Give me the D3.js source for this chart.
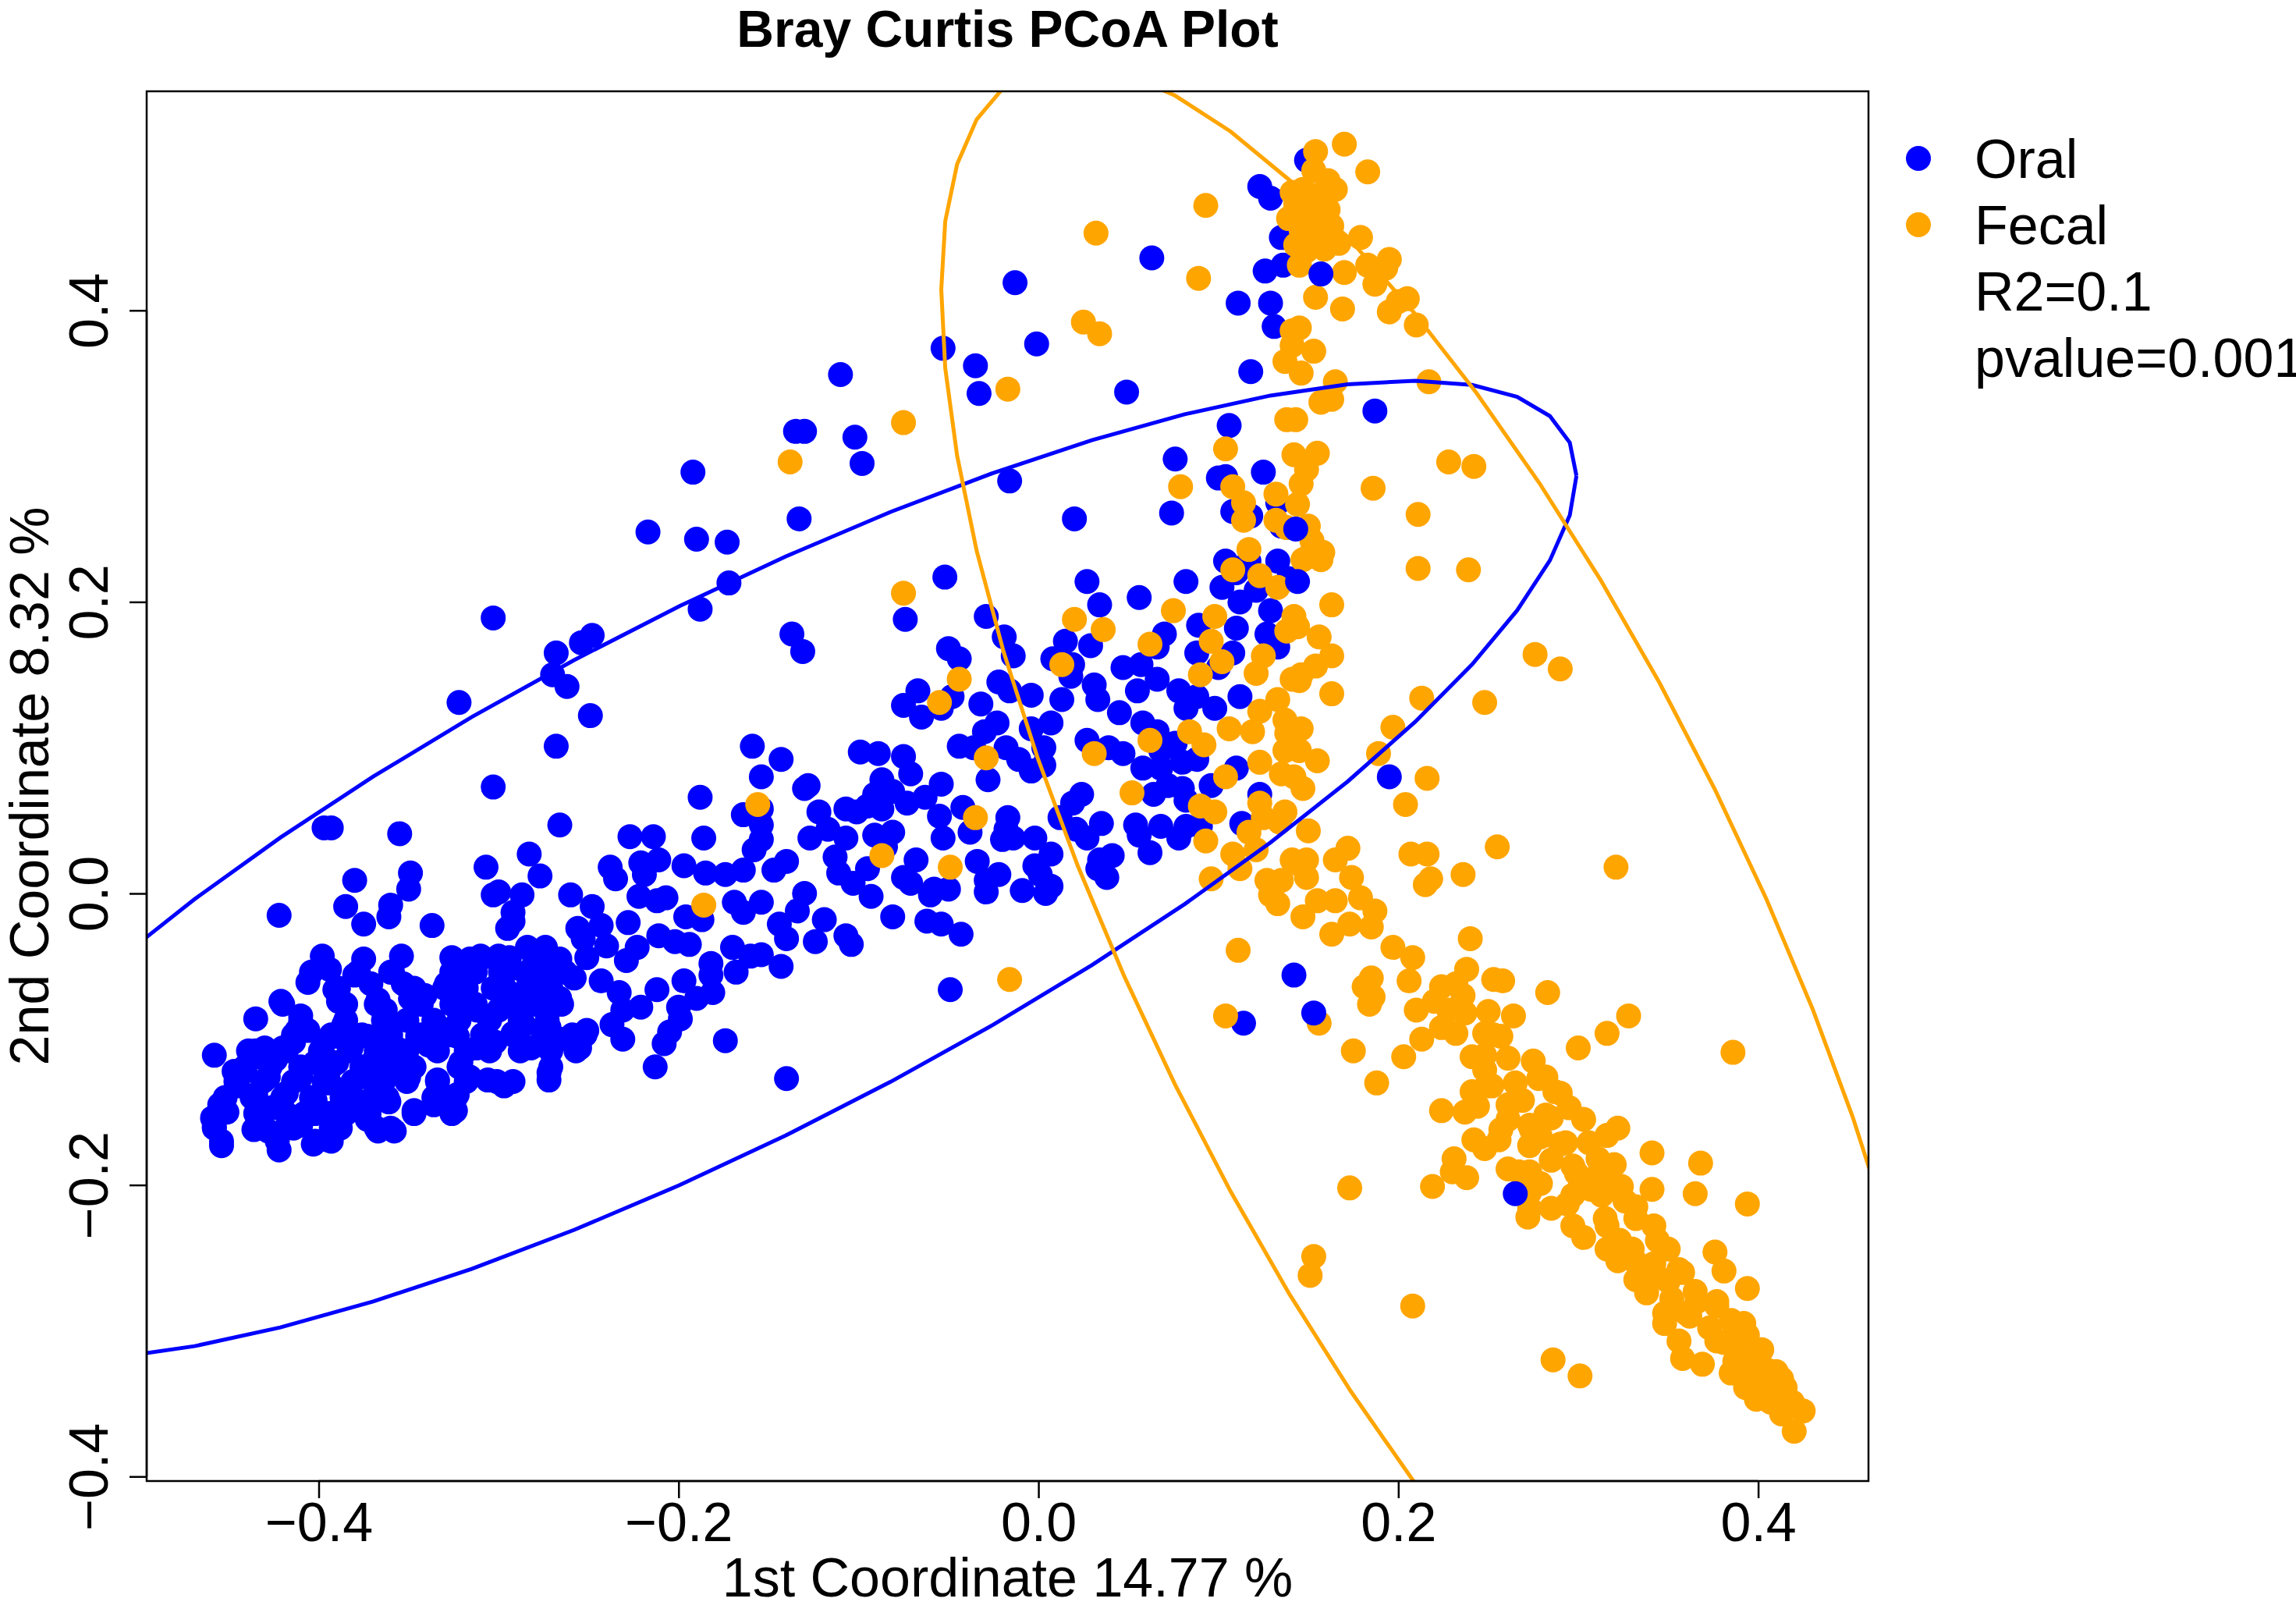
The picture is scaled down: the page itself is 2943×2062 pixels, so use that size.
<!DOCTYPE html>
<html>
<head>
<meta charset="utf-8">
<script src="https://cdn.jsdelivr.net/npm/d3@7"></script>
<style>
  body { margin: 0; background: #fff; }
</style>
</head>
<body>
<div id="chart"></div>
<script>
// (PCoA coordinates)
var oralPoints = [
  [-0.192,0.289],[-0.217,0.248],[-0.190,0.243],
  [-0.303,0.189],[-0.322,0.131],[-0.268,0.165],[-0.254,0.172],[-0.248,0.177],[-0.270,0.150],[-0.262,0.142],[-0.249,0.122],[-0.268,0.101],[-0.188,0.195],[-0.172,0.213],[-0.303,0.073],[-0.188,0.066],[-0.397,0.045],[-0.393,0.045],[-0.355,0.041],[-0.266,0.047],[-0.227,0.039],[-0.214,0.039],[-0.186,0.038],[-0.283,0.027],[-0.307,0.018],[-0.277,0.012],[-0.238,0.018],[-0.235,0.010],[-0.221,0.021],[-0.211,0.023],[-0.197,0.019],[-0.185,0.014],[-0.219,0.013],[-0.380,0.009],[-0.349,0.014],[-0.350,0.003],[-0.422,-0.015],[-0.385,-0.009],[-0.360,-0.008],[-0.361,-0.016],[-0.375,-0.021],[-0.337,-0.022],[-0.303,-0.001],[-0.300,0.001],[-0.287,-0.001],[-0.292,-0.013],[-0.292,-0.019],[-0.295,-0.024],[-0.260,-0.001],[-0.248,-0.009],[-0.256,-0.024],[-0.243,-0.022],[-0.228,-0.020],[-0.222,-0.002],[-0.212,-0.005],[-0.207,-0.003],[-0.196,-0.016],[-0.187,-0.018],[-0.211,-0.029],[-0.202,-0.033],[-0.194,-0.035],[-0.223,-0.037],[-0.229,-0.046],[-0.253,-0.031],[-0.251,-0.044],[-0.240,-0.036],[-0.243,-0.060],[-0.233,-0.068],[-0.231,-0.080],[-0.221,-0.078],[-0.212,-0.066],[-0.197,-0.060],[-0.190,-0.072],[-0.182,-0.048],[-0.181,-0.068],[-0.200,-0.078],[-0.182,-0.056],
  [-0.398,-0.043],[-0.406,-0.061],[-0.394,-0.052],[-0.391,-0.066],[-0.389,-0.074],[-0.375,-0.045],[-0.380,-0.056],[-0.371,-0.062],[-0.367,-0.073],[-0.363,-0.080],[-0.354,-0.043],[-0.359,-0.054],[-0.353,-0.062],[-0.349,-0.072],[-0.341,-0.070],[-0.421,-0.074],[-0.435,-0.086],[-0.410,-0.084],[-0.329,-0.062],[-0.323,-0.052],[-0.316,-0.045],[-0.310,-0.043],[-0.319,-0.072],[-0.312,-0.080],[-0.300,-0.043],[-0.294,-0.052],[-0.284,-0.037],[-0.274,-0.037],[-0.266,-0.045],[-0.284,-0.056],[-0.276,-0.062],[-0.266,-0.072],[-0.258,-0.058],[-0.296,-0.066],[-0.300,-0.080],[-0.288,-0.076],[-0.272,-0.080],
  [-0.458,-0.111],[-0.454,-0.173],[-0.422,-0.176],[-0.403,-0.172],[-0.395,-0.169],[-0.459,-0.154],[-0.458,-0.160],[-0.455,-0.145],[-0.451,-0.150],[-0.445,-0.132],[-0.441,-0.122],[-0.435,-0.112],[-0.436,-0.162],[-0.428,-0.163],[-0.418,-0.161],[-0.410,-0.159],[-0.412,-0.094],[-0.406,-0.094],[-0.414,-0.102],[-0.420,-0.106],[-0.424,-0.114],[-0.428,-0.126],[-0.435,-0.138],[-0.426,-0.147],[-0.418,-0.137],[-0.410,-0.126],[-0.402,-0.116],[-0.398,-0.106],[-0.390,-0.098],[-0.386,-0.090],[-0.382,-0.106],[-0.390,-0.116],[-0.394,-0.130],[-0.402,-0.142],[-0.408,-0.151],[-0.394,-0.151],[-0.388,-0.161],[-0.382,-0.138],[-0.373,-0.126],[-0.369,-0.114],[-0.373,-0.098],[-0.361,-0.092],[-0.357,-0.106],[-0.353,-0.124],[-0.350,-0.126],[-0.361,-0.143],[-0.373,-0.155],[-0.367,-0.163],[-0.358,-0.163],[-0.382,-0.147],[-0.347,-0.149],[-0.345,-0.098],[-0.339,-0.104],[-0.333,-0.092],[-0.323,-0.098],[-0.312,-0.106],[-0.321,-0.116],[-0.316,-0.126],[-0.334,-0.128],[-0.336,-0.145],[-0.324,-0.149],[-0.323,-0.138],[-0.306,-0.128],[-0.297,-0.132],[-0.292,-0.129],[-0.302,-0.102],[-0.292,-0.096],[-0.282,-0.106],[-0.286,-0.090],[-0.272,-0.092],[-0.272,-0.123],[-0.272,-0.128],[-0.266,-0.100],[-0.255,-0.098],[-0.255,-0.106],[-0.251,-0.094],[-0.237,-0.090],[-0.231,-0.100],[-0.213,-0.119],[-0.208,-0.103],[-0.205,-0.095],[-0.199,-0.086],[-0.174,-0.101],[-0.447,-0.122],[-0.439,-0.108],[-0.430,-0.106],
  [-0.326,-0.044],[-0.309,-0.044],[-0.294,-0.044],[-0.280,-0.044],[-0.271,-0.044],
  [-0.404,-0.054],[-0.378,-0.054],[-0.360,-0.054],[-0.326,-0.054],[-0.313,-0.054],[-0.299,-0.054],[-0.284,-0.054],[-0.271,-0.054],[-0.263,-0.054],
  [-0.389,-0.065],[-0.347,-0.065],[-0.330,-0.065],[-0.318,-0.065],[-0.303,-0.065],[-0.284,-0.065],[-0.271,-0.065],
  [-0.420,-0.076],[-0.385,-0.076],[-0.368,-0.076],[-0.343,-0.076],[-0.326,-0.076],[-0.313,-0.076],[-0.297,-0.076],[-0.280,-0.076],[-0.265,-0.076],
  [-0.410,-0.087],[-0.385,-0.087],[-0.364,-0.087],[-0.351,-0.087],[-0.336,-0.087],[-0.322,-0.087],[-0.305,-0.087],[-0.288,-0.087],[-0.273,-0.087],
  [-0.414,-0.097],[-0.393,-0.097],[-0.376,-0.097],[-0.360,-0.097],[-0.343,-0.097],[-0.326,-0.097],[-0.309,-0.097],[-0.292,-0.097],[-0.275,-0.097],[-0.259,-0.097],[-0.252,-0.097],
  [-0.435,-0.108],[-0.418,-0.108],[-0.399,-0.108],[-0.383,-0.108],[-0.368,-0.108],[-0.351,-0.108],[-0.334,-0.108],[-0.318,-0.108],[-0.305,-0.108],[-0.288,-0.108],[-0.271,-0.108],[-0.257,-0.108],
  [-0.441,-0.119],[-0.427,-0.119],[-0.410,-0.119],[-0.393,-0.119],[-0.376,-0.119],[-0.360,-0.119],[-0.347,-0.119],[-0.322,-0.119],[-0.271,-0.119],
  [-0.446,-0.129],[-0.431,-0.129],[-0.414,-0.129],[-0.397,-0.129],[-0.381,-0.129],[-0.364,-0.129],[-0.351,-0.129],[-0.334,-0.129],[-0.318,-0.129],[-0.301,-0.129],
  [-0.452,-0.140],[-0.437,-0.140],[-0.420,-0.140],[-0.404,-0.140],[-0.387,-0.140],[-0.370,-0.140],[-0.362,-0.140],[-0.336,-0.140],[-0.324,-0.140],
  [-0.456,-0.151],[-0.435,-0.151],[-0.418,-0.151],[-0.402,-0.151],[-0.385,-0.151],[-0.372,-0.151],[-0.347,-0.151],[-0.326,-0.151],
  [-0.458,-0.161],[-0.433,-0.161],[-0.414,-0.161],[-0.393,-0.161],[-0.368,-0.161],[-0.360,-0.161],
  [-0.454,-0.170],[-0.423,-0.170],[-0.402,-0.170],[-0.393,-0.170],
  [-0.140,-0.127],[0.114,-0.089],
  [-0.052,0.217],[-0.074,0.188],[-0.137,0.178],[-0.131,0.166],[-0.029,0.190],[-0.019,0.176],[-0.014,0.163],[-0.050,0.168],[-0.044,0.161],[0.027,0.214],[0.034,0.198],[0.056,0.203],[0.082,0.214],[0.070,0.178],[0.066,0.169],[0.015,0.173],[0.029,0.170],[0.008,0.161],[0.019,0.157],[0.018,0.149],[0.031,0.143],[0.033,0.133],[0.013,0.133],[-0.022,0.145],[-0.016,0.139],[-0.004,0.136],[-0.032,0.130],[-0.048,0.135],[-0.067,0.139],[-0.075,0.129],[-0.065,0.121],[-0.054,0.127],[0.047,0.155],[0.057,0.157],[0.066,0.147],[0.055,0.139],[0.045,0.124],[0.058,0.117],[0.066,0.111],[0.078,0.139],[0.082,0.127],[0.088,0.135],[0.098,0.127],[0.112,0.135],[0.089,0.184],[0.088,0.165],[0.100,0.155],[0.108,0.165],[0.102,0.210],[0.110,0.220],[0.104,0.228],[0.117,0.228],[0.133,0.228],[0.112,0.200],[0.129,0.194],[0.110,0.182],[0.127,0.178],[0.133,0.169],[0.121,0.208],[0.139,0.216],
  [-0.023,0.117],[-0.030,0.111],[-0.044,0.101],[-0.036,0.100],[-0.018,0.100],[-0.004,0.113],[0.007,0.117],[-0.011,0.092],[0.003,0.100],[-0.004,0.084],[0.003,0.088],[-0.028,0.078],[0.027,0.105],[0.039,0.100],[0.047,0.096],[0.058,0.086],[0.068,0.098],[0.076,0.103],[0.080,0.090],[0.088,0.092],[0.068,0.086],[0.072,0.074],[0.064,0.068],[0.080,0.072],[0.082,0.064],[0.096,0.074],[0.110,0.086],[0.123,0.068],[0.113,0.048],[0.024,0.068],[0.019,0.062],[0.012,0.052],[0.021,0.044],[0.027,0.038],[0.035,0.048],[0.054,0.047],[0.068,0.046],[0.056,0.040],[0.062,0.028],[0.034,0.023],[0.041,0.026],[0.033,0.017],[0.038,0.011],[0.078,0.038],[0.082,0.046],[0.090,0.046],
  [-0.017,0.052],[-0.018,0.044],[-0.014,0.038],[-0.020,0.037],[-0.002,0.038],[0.007,0.027],[-0.002,0.019],[0.001,0.013],[0.007,0.005],[0.004,0.000],[-0.009,0.002],[-0.022,0.013],[-0.034,0.022],[-0.029,0.009],[-0.029,0.001],[-0.042,0.059],[-0.038,0.042],[-0.053,0.038],[-0.055,0.053],[-0.054,0.075],[-0.075,0.094],[-0.089,0.096],[-0.099,0.097],[-0.071,0.082],[-0.087,0.078],[-0.081,0.070],[-0.091,0.068],[-0.073,0.062],[-0.063,0.066],[-0.087,0.058],[-0.095,0.060],[-0.081,0.042],[-0.091,0.040],[-0.085,0.032],[-0.107,0.058],[-0.101,0.056],[-0.122,0.056],[-0.130,0.072],[-0.128,0.074],[-0.159,0.101],[-0.143,0.092],[-0.154,0.080],[-0.164,0.054],[-0.154,0.058],[-0.154,0.047],[-0.154,0.037],[-0.158,0.030],[-0.127,0.038],[-0.117,0.044],[-0.113,0.025],[-0.107,0.038],[-0.111,0.014],[-0.103,0.007],[-0.093,-0.002],[-0.095,0.017],[-0.140,0.022],[-0.147,0.016],[-0.164,0.016],[-0.174,0.013],[-0.068,0.023],[-0.075,0.011],[-0.071,0.007],[-0.058,0.003],[-0.050,0.003],[-0.060,-0.001],[-0.081,-0.016],[-0.062,-0.019],[-0.054,-0.021],[-0.043,-0.028],[-0.130,0.000],[-0.134,-0.012],[-0.154,-0.006],[-0.169,-0.006],[-0.164,-0.013],[-0.144,-0.021],[-0.119,-0.018],[-0.124,-0.033],[-0.107,-0.029],[-0.104,-0.035],[-0.140,-0.031],[-0.143,-0.050],[-0.170,-0.037],[-0.160,-0.043],[-0.168,-0.054],[-0.154,-0.042],[-0.049,-0.066],
  [0.123,0.485],[0.129,0.477],[0.135,0.450],[0.063,0.436],[-0.013,0.419],[0.126,0.427],[0.136,0.431],[0.111,0.405],[0.129,0.405],[0.131,0.389],[-0.053,0.374],[-0.001,0.377],[-0.035,0.362],[-0.033,0.343],[0.049,0.344],[0.118,0.358],[-0.110,0.356],[-0.135,0.317],[-0.130,0.317],[-0.102,0.313],[-0.098,0.295],[0.106,0.321],[0.076,0.298],[0.104,0.286],[0.100,0.285],[0.125,0.289],[-0.016,0.283],[-0.133,0.257],[0.020,0.257],[0.074,0.261],[0.108,0.262],[0.118,0.259],[0.133,0.268],[0.135,0.252],[-0.173,0.241],
  [0.149,0.503]
];

// oral samples that sit on top of fecal ones in the picture
var oralOnTop = [
  [0.157,0.425],[0.187,0.331],[0.143,0.250],[0.144,0.214],[0.195,0.080],
  [0.142,-0.056],[0.153,-0.082],[0.265,-0.206]
];

var fecalPoints = [
  [-0.186,-0.008],
  [-0.075,0.206],[-0.044,0.147],[-0.055,0.131],[0.020,0.188],[0.036,0.181],[0.075,0.194],[0.013,0.157],[0.062,0.171],[-0.029,0.093],[-0.156,0.061],[-0.035,0.052],[-0.087,0.026],[-0.049,0.018],[0.052,0.069],[0.062,0.105],[0.031,0.096],[0.093,0.036],[0.096,0.010],[0.111,-0.039],[-0.016,-0.059],[0.104,-0.084],[0.096,0.173],[0.090,0.150],[0.102,0.159],[0.125,0.163],[0.121,0.151],[0.098,0.190],[0.108,0.222],[0.123,0.218],[0.133,0.210],[0.138,0.180],[0.141,0.147],[0.133,0.133],[0.123,0.125],[0.084,0.111],[0.092,0.102],[0.106,0.113],[0.119,0.111],[0.137,0.119],[0.137,0.098],[0.123,0.090],[0.104,0.080],[0.135,0.082],[0.090,0.060],[0.098,0.056],[0.123,0.062],[0.125,0.052],[0.117,0.042],[0.108,0.027],[0.121,0.030],[0.112,0.017],[0.127,0.009],[0.135,0.009],[0.133,-0.007],[0.141,0.023],[0.137,0.056],[0.129,-0.001],
  [0.093,0.472],[0.032,0.453],[0.089,0.422],[0.025,0.392],[0.034,0.384],[-0.017,0.346],[-0.075,0.323],[-0.138,0.296],[0.104,0.305],[0.079,0.279],[0.108,0.279],[0.114,0.268],[0.132,0.274],[0.114,0.256],[0.132,0.256],[0.138,0.325],[0.137,0.365],[0.141,0.376],[0.141,0.386],[0.139,0.463],[0.141,0.481],[0.117,0.236],
  [0.142,0.301],[0.146,0.281],[0.138,0.251],[0.150,0.231],[0.142,0.190],[0.146,0.150],[0.138,0.110],[0.142,0.080],[0.134,0.049],[0.146,0.019],
  [0.170,0.514],[0.154,0.509],[0.183,0.495],[0.153,0.496],[0.161,0.489],[0.165,0.483],[0.147,0.483],[0.155,0.479],[0.161,0.469],[0.149,0.465],[0.155,0.459],[0.146,0.455],[0.157,0.449],[0.167,0.446],[0.179,0.450],[0.149,0.441],[0.145,0.431],[0.170,0.426],[0.183,0.431],[0.195,0.435],[0.193,0.429],[0.187,0.418],[0.154,0.409],[0.169,0.401],[0.195,0.399],[0.205,0.408],[0.200,0.406],[0.210,0.390],[0.145,0.388],[0.153,0.372],[0.146,0.357],[0.165,0.351],[0.163,0.339],[0.157,0.337],[0.217,0.351],[0.143,0.325],[0.155,0.302],[0.149,0.291],[0.228,0.296],[0.242,0.293],[0.186,0.278],[0.211,0.260],[0.144,0.267],[0.150,0.252],[0.152,0.242],[0.158,0.234],[0.143,0.473],[0.143,0.445],[0.151,0.473],[0.159,0.442],[0.163,0.458],
  [0.157,0.229],[0.147,0.229],[0.211,0.223],[0.239,0.222],[0.163,0.198],[0.144,0.183],[0.156,0.176],[0.163,0.163],[0.154,0.156],[0.145,0.146],[0.163,0.137],[0.276,0.164],[0.290,0.154],[0.213,0.134],[0.248,0.131],[0.146,0.113],[0.197,0.114],[0.145,0.098],[0.155,0.091],[0.189,0.096],[0.216,0.079],[0.147,0.072],[0.204,0.061],[0.150,0.043],[0.172,0.031],[0.165,0.023],[0.207,0.027],[0.216,0.027],[0.255,0.032],[0.321,0.018],[0.236,0.013],[0.218,0.010],[0.215,0.006],[0.149,0.023],[0.149,0.011],[0.155,-0.005],[0.165,-0.005],[0.174,0.011],[0.179,-0.003],[0.187,-0.012],[0.147,-0.016],[0.173,-0.021],[0.185,-0.023],[0.163,-0.028],[0.240,-0.031],[0.197,-0.037],[0.208,-0.044],[0.185,-0.058],[0.181,-0.064],[0.186,-0.071],[0.184,-0.076],[0.206,-0.060],[0.238,-0.052],[0.253,-0.059],[0.258,-0.060],[0.283,-0.068],[0.224,-0.064],[0.232,-0.062],[0.236,-0.070],[0.220,-0.074],[0.210,-0.080],[0.228,-0.080],[0.250,-0.081],[0.264,-0.084],[0.328,-0.084],
  [0.156,-0.089],[0.175,-0.108],[0.203,-0.112],[0.188,-0.130],[0.213,-0.100],[0.232,-0.096],[0.248,-0.096],[0.257,-0.098],[0.300,-0.106],[0.316,-0.096],[0.386,-0.109],[0.248,-0.111],[0.261,-0.113],[0.275,-0.115],[0.248,-0.121],[0.252,-0.132],[0.265,-0.130],[0.282,-0.126],[0.287,-0.136],[0.241,-0.136],[0.244,-0.146],[0.261,-0.145],[0.295,-0.147],[0.303,-0.155],[0.285,-0.154],[0.224,-0.149],[0.237,-0.150],[0.261,-0.155],[0.273,-0.159],[0.322,-0.161],[0.316,-0.166],[0.242,-0.169],[0.248,-0.175],[0.256,-0.169],[0.273,-0.173],[0.293,-0.171],[0.306,-0.171],[0.341,-0.178],[0.368,-0.185],[0.231,-0.182],[0.238,-0.195],[0.230,-0.191],[0.219,-0.201],[0.173,-0.202],[0.261,-0.189],[0.273,-0.191],[0.285,-0.183],[0.297,-0.187],[0.311,-0.193],[0.320,-0.186],[0.273,-0.205],[0.272,-0.222],[0.285,-0.216],[0.297,-0.207],[0.301,-0.201],[0.313,-0.207],[0.324,-0.201],[0.326,-0.211],[0.341,-0.203],[0.365,-0.206],[0.394,-0.213],[0.297,-0.228],[0.303,-0.236],[0.316,-0.228],[0.332,-0.215],[0.342,-0.228],[0.316,-0.244],[0.322,-0.252],[0.330,-0.244],[0.350,-0.244],[0.342,-0.254],[0.332,-0.265],[0.338,-0.274],[0.350,-0.266],[0.358,-0.260],[0.376,-0.246],[0.381,-0.259],[0.394,-0.271],[0.366,-0.280],[0.377,-0.280],[0.348,-0.288],[0.348,-0.295],[0.362,-0.290],[0.392,-0.295],[0.356,-0.307],[0.358,-0.319],[0.369,-0.323],[0.377,-0.307],[0.391,-0.303],[0.387,-0.321],[0.397,-0.319],[0.385,-0.329],[0.393,-0.339],[0.405,-0.327],[0.413,-0.333],[0.415,-0.339],[0.399,-0.347],[0.407,-0.349],[0.413,-0.357],[0.425,-0.355],[0.420,-0.369],[0.419,-0.349],[0.153,-0.249],[0.151,-0.262],[0.208,-0.283],[0.286,-0.320],[0.301,-0.331],[0.267,-0.191],[0.279,-0.199],[0.279,-0.167],[0.269,-0.142],[0.273,-0.216],
  [0.224,-0.092],[0.241,-0.112],[0.249,-0.132],[0.266,-0.142],[0.274,-0.162],[0.290,-0.172],[0.299,-0.192],[0.307,-0.203],[0.315,-0.223],[0.323,-0.238],[0.332,-0.253],[0.344,-0.263],[0.352,-0.278],[0.360,-0.288],[0.373,-0.298],[0.381,-0.308],[0.389,-0.318],[0.398,-0.328],[0.406,-0.339],[0.414,-0.349],[0.282,-0.152],[0.257,-0.162],[0.294,-0.213],[0.311,-0.182],[0.332,-0.223],[0.344,-0.238],[0.356,-0.258],[0.365,-0.273],[0.377,-0.283],[0.385,-0.293],[0.394,-0.303],[0.402,-0.313],[0.410,-0.328],[0.315,-0.192],[0.278,-0.127],[0.290,-0.137],[0.237,-0.082],[0.253,-0.097]
];

// Confidence ellipses: centre x, centre y, then the Cholesky factors r11, r12, r22
var oralEllipse = [-0.170, 0.0155, 0.469, 0.271, 0.199];
var fecalEllipse = [0.226, -0.030, 0.280, -0.4443, 0.4018];

var xTicks = [-0.4, -0.2, 0.0, 0.2, 0.4];
var yTicks = [-0.4, -0.2, 0.0, 0.2, 0.4];

var legendLabels = ["Oral", "Fecal"];
var statLabels = ["R2=0.1", "pvalue=0.001"];

var oralColor = "#0000ff";
var fecalColor = "#ffa500";

var svgWidth = 2943;
var svgHeight = 2062;

var plot = { left: 188, right: 2395, top: 117, bottom: 1898 };
var font = "'Liberation Sans', Arial, Helvetica, sans-serif";
var pointR = 16;

var svg = d3.select("#chart")
    .append("svg")
    .attr("width", svgWidth)
    .attr("height", svgHeight)
    .style("background", "#fff");

var x = d3.scaleLinear()
    .domain([-0.4956, 0.4613])
    .range([plot.left, plot.right]);

var y = d3.scaleLinear()
    .domain([-0.4031, 0.5503])
    .range([plot.bottom, plot.top]);

// Clip region for the ellipses
svg.append("defs").append("clipPath")
    .attr("id", "plotClip")
    .append("rect")
    .attr("x", plot.left)
    .attr("y", plot.top)
    .attr("width", plot.right - plot.left)
    .attr("height", plot.bottom - plot.top);

// Points
function drawPoints(data, color) {
    svg.append("g")
        .selectAll("circle")
        .data(data)
        .enter()
        .append("circle")
        .attr("cx", d => x(d[0]))
        .attr("cy", d => y(d[1]))
        .attr("r", pointR)
        .attr("fill", color);
}

drawPoints(oralPoints, oralColor);
drawPoints(fecalPoints, fecalColor);
drawPoints(oralOnTop, oralColor);

// Ellipses, 50 segments like the R polygon
function ellipsePath(e) {
    var pts = d3.range(0, 51).map(function(k) {
        var t = k * 2 * Math.PI / 50;
        return [e[0] + e[2] * Math.cos(t), e[1] + e[3] * Math.cos(t) + e[4] * Math.sin(t)];
    });
    return d3.line().x(d => x(d[0])).y(d => y(d[1]))(pts);
}

var ellipseGroup = svg.append("g").attr("clip-path", "url(#plotClip)");

ellipseGroup.append("path")
    .attr("d", ellipsePath(oralEllipse))
    .attr("fill", "none")
    .attr("stroke", oralColor)
    .attr("stroke-width", 5);

ellipseGroup.append("path")
    .attr("d", ellipsePath(fecalEllipse))
    .attr("fill", "none")
    .attr("stroke", fecalColor)
    .attr("stroke-width", 5);

// Box
svg.append("rect")
    .attr("x", plot.left)
    .attr("y", plot.top)
    .attr("width", plot.right - plot.left)
    .attr("height", plot.bottom - plot.top)
    .attr("fill", "none")
    .attr("stroke", "#000")
    .attr("stroke-width", 2.5);

// X axis
var xAxis = svg.append("g")
    .attr("transform", `translate(0, ${plot.bottom})`)
    .call(d3.axisBottom(x).tickValues(xTicks).tickFormat(d3.format(".1f")).tickSize(22).tickPadding(5));

xAxis.select(".domain").remove();
xAxis.selectAll("line").attr("stroke-width", 2.5);
xAxis.selectAll("text")
    .attr("font-size", 70)
    .attr("font-family", font)
    .attr("fill", "#000");

xAxis.append("line")
    .attr("x1", x(xTicks[0]))
    .attr("x2", x(xTicks[xTicks.length - 1]))
    .attr("stroke", "#000")
    .attr("stroke-width", 2.5);

// Y axis, labels parallel to the axis
var yAxis = svg.append("g")
    .attr("transform", `translate(${plot.left}, 0)`)
    .call(d3.axisLeft(y).tickValues(yTicks).tickFormat(d3.format(".1f")).tickSize(22));

yAxis.select(".domain").remove();
yAxis.selectAll("line").attr("stroke-width", 2.5);
yAxis.selectAll("text")
    .attr("x", 0)
    .attr("dy", 0)
    .attr("transform", "translate(-50,0) rotate(-90)")
    .attr("text-anchor", "middle")
    .attr("font-size", 70)
    .attr("font-family", font)
    .attr("fill", "#000");

yAxis.append("line")
    .attr("y1", y(yTicks[0]))
    .attr("y2", y(yTicks[yTicks.length - 1]))
    .attr("stroke", "#000")
    .attr("stroke-width", 2.5);

// Titles
var midX = (plot.left + plot.right) / 2;
var midY = (plot.top + plot.bottom) / 2;

svg.append("text")
    .attr("x", midX)
    .attr("y", 60)
    .attr("text-anchor", "middle")
    .attr("font-family", font)
    .attr("font-weight", "bold")
    .attr("font-size", 66)
    .text("Bray Curtis PCoA Plot");

svg.append("text")
    .attr("x", midX)
    .attr("y", 2046)
    .attr("text-anchor", "middle")
    .attr("font-family", font)
    .attr("font-size", 70)
    .text("1st Coordinate 14.77 %");

svg.append("text")
    .attr("transform", `translate(62, ${midY}) rotate(-90)`)
    .attr("text-anchor", "middle")
    .attr("font-family", font)
    .attr("font-size", 70)
    .text("2nd Coordinate 8.32 %");

// Legend
var legend = svg.append("g").attr("transform", "translate(2459, 0)");
var legendColors = [oralColor, fecalColor];

legend.selectAll("circle")
    .data(legendLabels)
    .enter()
    .append("circle")
    .attr("cx", 0)
    .attr("cy", (d, i) => 203 + i * 85)
    .attr("r", pointR)
    .attr("fill", (d, i) => legendColors[i]);

legend.selectAll("text")
    .data(legendLabels.concat(statLabels))
    .enter()
    .append("text")
    .attr("x", 72)
    .attr("y", (d, i) => 228 + i * 85)
    .attr("font-family", font)
    .attr("font-size", 70)
    .text(d => d);
</script>
</body>
</html>
